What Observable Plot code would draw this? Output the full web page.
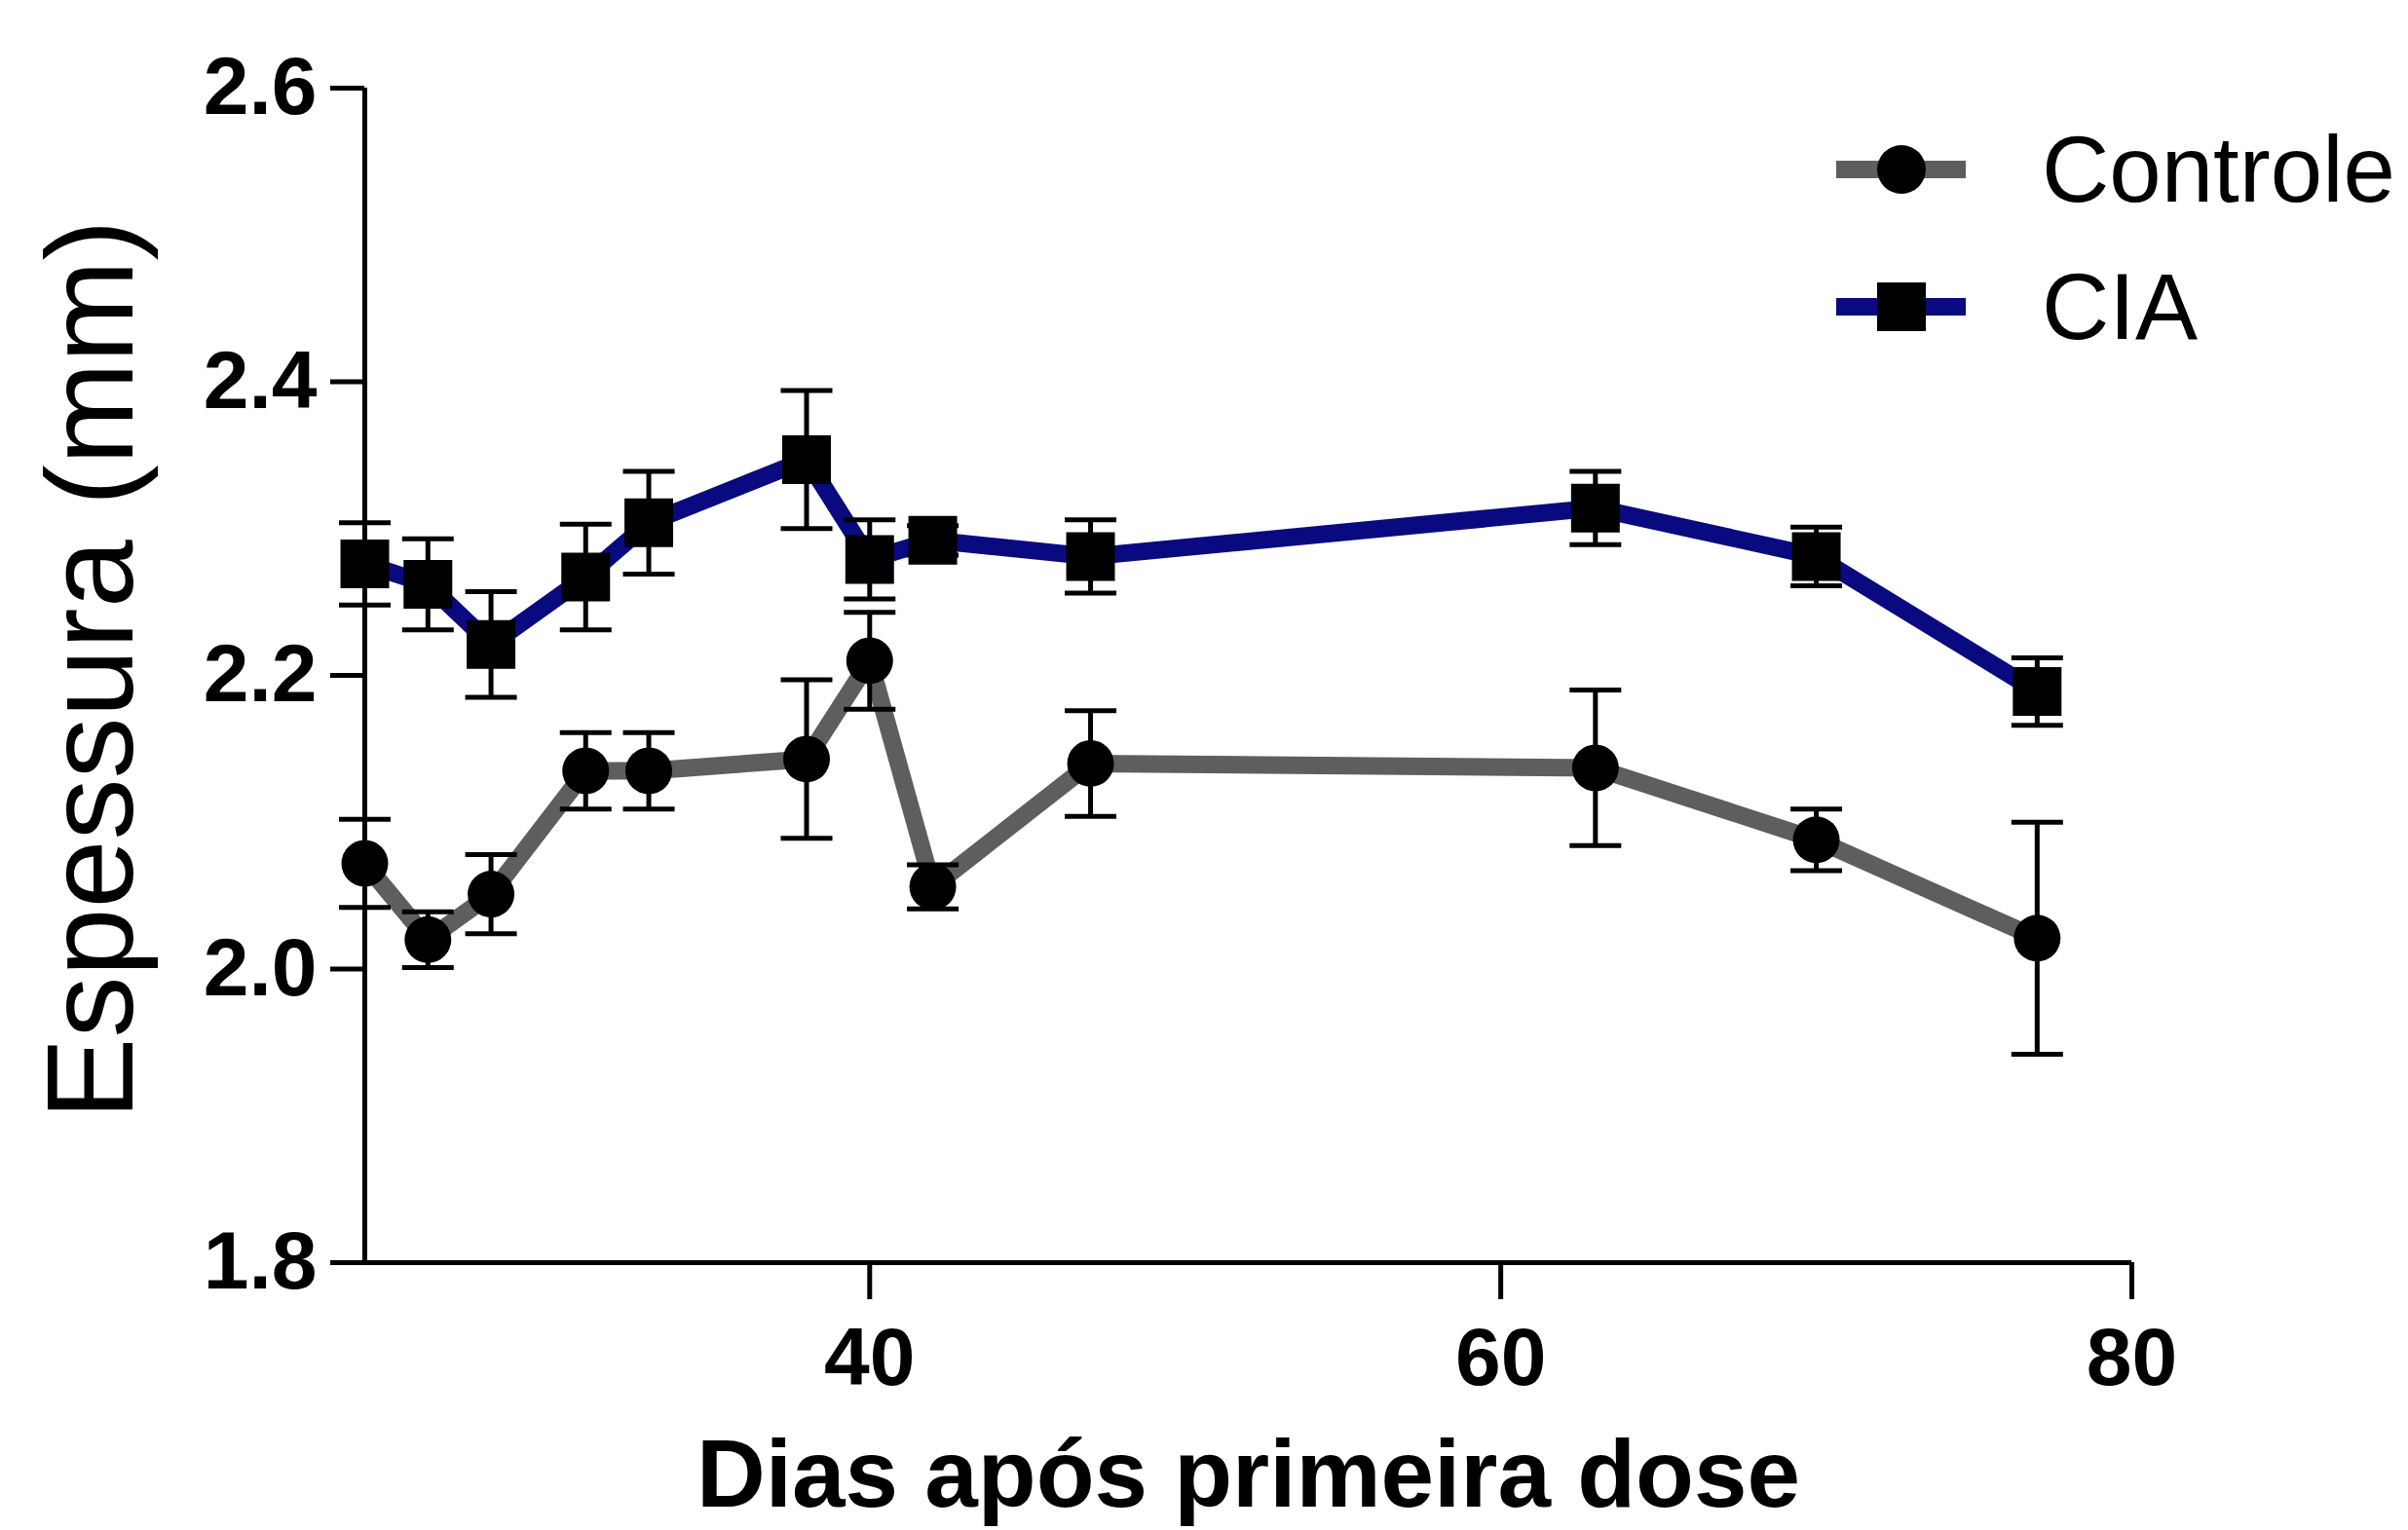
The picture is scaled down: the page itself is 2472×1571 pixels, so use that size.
<!DOCTYPE html>
<html>
<head>
<meta charset="utf-8">
<script src="https://cdn.jsdelivr.net/npm/d3@7"></script>
<script src="https://cdn.jsdelivr.net/npm/@observablehq/plot@0.6"></script>
<style>
  html, body { margin: 0; padding: 0; background: #fff; }
  #wrap { position: relative; width: 2472px; height: 1571px; font-family: "Liberation Sans", Arial, sans-serif; }
  #legend { position: absolute; left: 1885px; top: 103px; }
  .row { display: flex; align-items: center; height: 141px; }
  .row span { font-size: 96px; margin-left: 78px; color: #000; line-height: 1; }
</style>
</head>
<body>
<div id="wrap"></div>
<script>
// ---- data ----
const days = [24, 26, 28, 31, 33, 38, 40, 42, 47, 63, 70, 77];
const controle    = [2.072, 2.020, 2.051, 2.135, 2.135, 2.143, 2.210, 2.056, 2.140, 2.137, 2.088, 2.021];
const controleErr = [0.030, 0.019, 0.027, 0.026, 0.026, 0.054, 0.033, 0.015, 0.036, 0.053, 0.021, 0.079];
const cia         = [2.276, 2.262, 2.221, 2.267, 2.304, 2.347, 2.279, 2.292, 2.281, 2.314, 2.281, 2.189];
const ciaErr      = [0.028, 0.031, 0.036, 0.036, 0.035, 0.047, 0.027, 0.010, 0.025, 0.025, 0.020, 0.023];
const seriesNames = ["Controle", "CIA"];
const seriesColors = ["#5e5e5e", "#0a0a80"];
const xTicks = [40, 60, 80];
const yTicks = [1.8, 2.0, 2.2, 2.4, 2.6];
const xDomain = [24, 80];
const yDomain = [1.8, 2.6];
const xLabel = "Dias após primeira dose";
const yLabel = "Espessura (mm)";

const rowsControle = days.map((d, i) => ({day: d, v: controle[i], e: controleErr[i], group: seriesNames[0]}));
const rowsCIA = days.map((d, i) => ({day: d, v: cia[i], e: ciaErr[i], group: seriesNames[1]}));
const allRows = rowsControle.concat(rowsCIA);

// horizontal cap symbol for error bars
const capSymbol = {
  draw(context, size) {
    const r = Math.sqrt(size / Math.PI);
    context.moveTo(-r, 0);
    context.lineTo(r, 0);
  }
};

const chart = Plot.plot({
  width: 2472,
  height: 1571,
  marginLeft: 374,
  marginRight: 284,
  marginTop: 90,
  marginBottom: 275,
  style: {fontFamily: "'Liberation Sans', Arial, sans-serif", background: "#fff", color: "#000", overflow: "visible"},
  x: {domain: xDomain},
  y: {domain: yDomain},
  marks: [
    Plot.axisY({ticks: yTicks, tickFormat: d3.format(".1f"), tickSize: 35, tickPadding: 14, fontSize: 84, fontWeight: "bold", strokeWidth: 5, label: null}),
    Plot.axisX({ticks: xTicks, tickSize: 38, tickPadding: 28, fontSize: 84, fontWeight: "bold", strokeWidth: 5, label: null}),
    Plot.ruleX([xDomain[0]], {y1: yDomain[0], y2: yDomain[1], strokeWidth: 5}),
    Plot.ruleY([yDomain[0]], {x1: xDomain[0], x2: xDomain[1], strokeWidth: 5}),
    Plot.line(rowsControle, {x: "day", y: "v", stroke: seriesColors[0], strokeWidth: 18, strokeLinejoin: "miter"}),
    Plot.line(rowsCIA, {x: "day", y: "v", stroke: seriesColors[1], strokeWidth: 18, strokeLinejoin: "miter"}),
    Plot.ruleX(allRows, {x: "day", y1: d => d.v - d.e, y2: d => d.v + d.e, stroke: "#000", strokeWidth: 5}),
    Plot.dot(allRows, {x: "day", y: d => d.v + d.e, symbol: capSymbol, r: 26.5, stroke: "#000", strokeWidth: 5, fill: "none"}),
    Plot.dot(allRows, {x: "day", y: d => d.v - d.e, symbol: capSymbol, r: 26.5, stroke: "#000", strokeWidth: 5, fill: "none"}),
    Plot.dot(rowsControle, {x: "day", y: "v", symbol: "circle", r: 24, fill: "#000", stroke: "none"}),
    Plot.dot(rowsCIA, {x: "day", y: "v", symbol: "square", r: 28.2, fill: "#000", stroke: "none"}),
    Plot.text([yLabel], {frameAnchor: "left", textAnchor: "middle", lineAnchor: "middle", rotate: -90, dx: -279, dy: -6, fontSize: 126, fill: "#000"}),
    Plot.text([xLabel], {frameAnchor: "bottom", textAnchor: "middle", lineAnchor: "middle", dy: 219, fontSize: 98, fontWeight: "bold", fill: "#000"})
  ]
});

const wrap = document.getElementById("wrap");
wrap.appendChild(chart);

// legend (overlaid in the top-right corner, as in the reference)
const legend = document.createElement("div");
legend.id = "legend";
seriesNames.forEach((name, i) => {
  const row = document.createElement("div");
  row.className = "row";
  const svg = d3.create("svg").attr("width", 133).attr("height", 60);
  svg.append("line").attr("x1", 0).attr("x2", 133).attr("y1", 30).attr("y2", 30)
    .attr("stroke", seriesColors[i]).attr("stroke-width", 18);
  if (i === 0) svg.append("circle").attr("cx", 67).attr("cy", 30).attr("r", 25).attr("fill", "#000");
  else svg.append("rect").attr("x", 42).attr("y", 5).attr("width", 50).attr("height", 50).attr("fill", "#000");
  row.appendChild(svg.node());
  const label = document.createElement("span");
  label.textContent = name;
  row.appendChild(label);
  legend.appendChild(row);
});
wrap.appendChild(legend);
</script>
</body>
</html>
